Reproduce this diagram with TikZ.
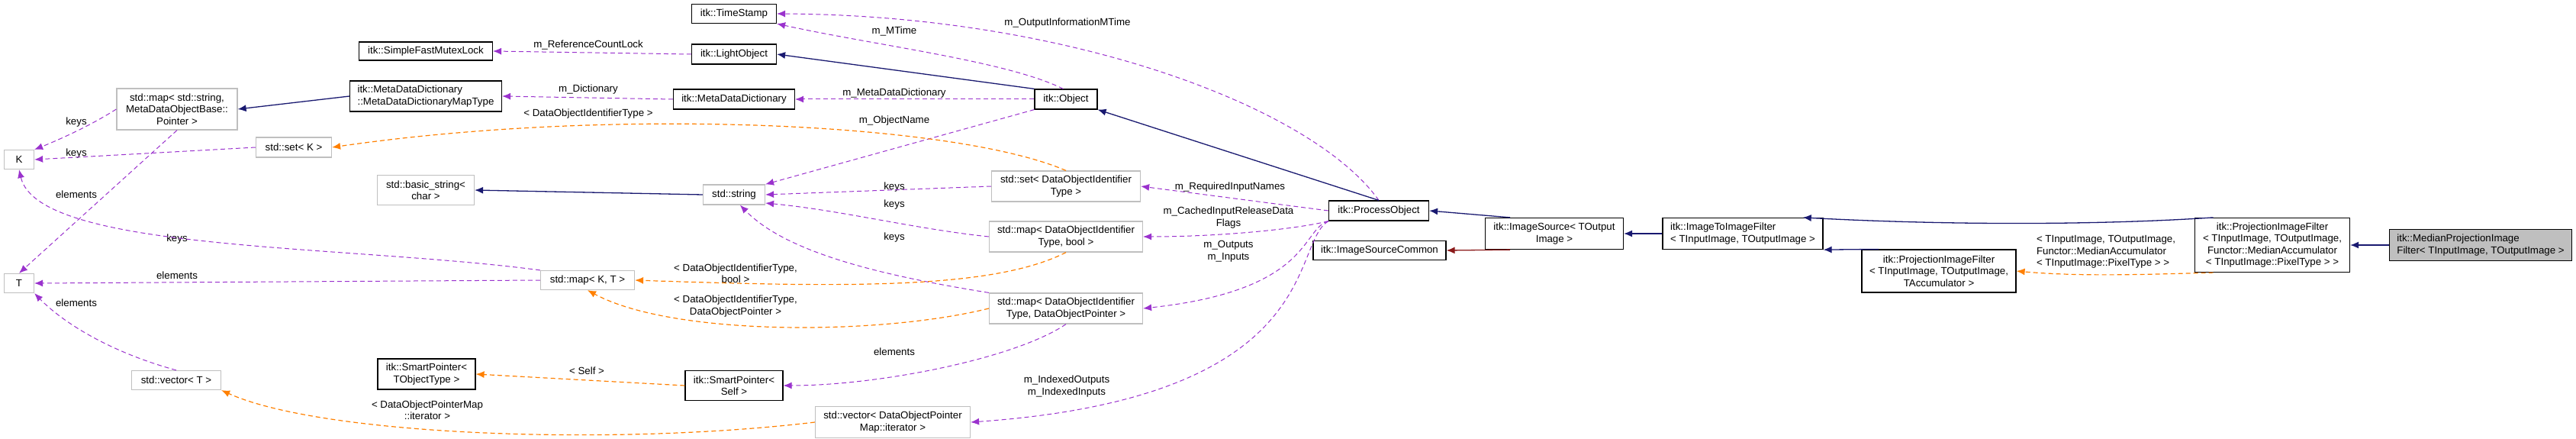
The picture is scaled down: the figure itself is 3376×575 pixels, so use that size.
\documentclass[tikz,border=0pt]{standalone}
\usepackage{fontspec}
\setmainfont{Liberation Sans}
\usetikzlibrary{arrows.meta}
\definecolor{navy}{HTML}{191970}
\definecolor{orchid}{HTML}{9A32CD}
\definecolor{brick}{HTML}{8B1A1A}
\definecolor{grayline}{HTML}{BFBFBF}
\begin{document}
\begin{tikzpicture}[x=1pt, y=-1pt, font=\fontsize{13.3}{15.5}\selectfont]
% Define styles
\tikzstyle{cls} = [rectangle, draw=black, line width=1.2pt, fill=white, inner sep=2pt, align=center]
\tikzstyle{ext} = [rectangle, draw=grayline, line width=1.2pt, fill=white, inner sep=2pt, align=center]
\tikzstyle{lbl} = [inner sep=0pt, align=center]
\tikzstyle{member} = [draw=orchid, dashed, dash pattern=on 6pt off 4pt, line width=1pt, -{Latex[length=11pt,width=9pt]}]
\tikzstyle{tmpl} = [draw=orange, dashed, dash pattern=on 6pt off 4pt, line width=1.2pt, -{Latex[length=11pt,width=9pt]}]
\tikzstyle{inherit} = [draw=navy, line width=1.3pt, -{Latex[length=11pt,width=9pt]}]
\useasboundingbox (0,0) rectangle (3376,575);

% Nodes
\node [cls, minimum width=111, minimum height=25] (timestamp) at (962,18) {itk::TimeStamp};
\node [cls, minimum width=111, minimum height=26] (lightobj) at (962,71) {itk::LightObject};
\node [cls, minimum width=175, minimum height=24] (mutex) at (558,67) {itk::SimpleFastMutexLock};
\node [cls, minimum width=199, minimum height=40, align=left] (maptype) at (558,126) {itk::MetaDataDictionary\\::MetaDataDictionaryMapType};
\node [ext, minimum width=158, minimum height=54] (mapstr) at (232,143) {std::map\textless{} std::string,\\MetaDataObjectBase::\\Pointer \textgreater};
\node [cls, minimum width=159, minimum height=26] (mdd) at (962,130) {itk::MetaDataDictionary};
\node [cls, minimum width=82, minimum height=26] (object) at (1397,130) {itk::Object};
\node [ext, minimum width=39, minimum height=25] (K) at (25,209) {K};
\node [ext, minimum width=39, minimum height=25] (T) at (25,371) {T};
\node [ext, minimum width=99, minimum height=26] (setK) at (385,193) {std::set\textless{} K \textgreater};
\node [ext, minimum width=127, minimum height=39] (basicstr) at (558,249) {std::basic\_string\textless\\char \textgreater};
\node [ext, minimum width=81, minimum height=26] (string) at (962,255) {std::string};
\node [ext, minimum width=195, minimum height=40] (setdoit) at (1397,244) {std::set\textless{} DataObjectIdentifier\\Type \textgreater};
\node [ext, minimum width=201, minimum height=40] (mapbool) at (1397,310) {std::map\textless{} DataObjectIdentifier\\Type, bool \textgreater};
\node [ext, minimum width=201, minimum height=40] (mapdop) at (1397,404) {std::map\textless{} DataObjectIdentifier\\Type, DataObjectPointer \textgreater};
\node [ext, minimum width=123, minimum height=25] (mapKT) at (770,367) {std::map\textless{} K, T \textgreater};
\node [ext, minimum width=117, minimum height=25] (vecT) at (231,498) {std::vector\textless{} T \textgreater};
\node [cls, minimum width=128, minimum height=40] (sptobj) at (559,490) {itk::SmartPointer\textless\\TObjectType \textgreater};
\node [cls, minimum width=128, minimum height=39] (spself) at (962,505) {itk::SmartPointer\textless\\Self \textgreater};
\node [ext, minimum width=203, minimum height=41] (vecdop) at (1170,553) {std::vector\textless{} DataObjectPointer\\Map::iterator \textgreater};
\node [cls, minimum width=131, minimum height=26] (process) at (1807,276) {itk::ProcessObject};
\node [cls, minimum width=174, minimum height=25] (isc) at (1808,328) {itk::ImageSourceCommon};
\node [cls, minimum width=181, minimum height=41] (imgsrc) at (2037,306) {itk::ImageSource\textless{} TOutput\\Image \textgreater};
\node [cls, minimum width=210, minimum height=41, align=left] (i2i) at (2284,306) {itk::ImageToImageFilter\\\textless{} TInputImage, TOutputImage \textgreater};
\node [cls, minimum width=202, minimum height=56] (projacc) at (2541,355) {itk::ProjectionImageFilter\\\textless{} TInputImage, TOutputImage,\\TAccumulator \textgreater};
\node [cls, minimum width=203, minimum height=71] (projmed) at (2978,321) {itk::ProjectionImageFilter\\\textless{} TInputImage, TOutputImage,\\Functor::MedianAccumulator\\\textless{} TInputImage::PixelType \textgreater{} \textgreater};
\node [cls, fill=grayline, minimum width=239, minimum height=41, align=left] (median) at (3251,321) {itk::MedianProjectionImage\\Filter\textless{} TInputImage, TOutputImage \textgreater};

% Labels
\node [lbl] (lrefcount) at (771,59) {m\_ReferenceCountLock};
\node [lbl] (ldict) at (771,117) {m\_Dictionary};
\node [lbl] (ltsetk) at (771,149) {\textless{} DataObjectIdentifierType \textgreater};
\node [lbl] (lkeys1) at (100,160) {keys};
\node [lbl] (lkeys2) at (100,201) {keys};
\node [lbl] (lelem1) at (100,255) {elements};
\node [lbl] (lkeys3) at (232,313) {keys};
\node [lbl] (lelem2) at (232,361) {elements};
\node [lbl] (lelem3) at (100,397) {elements};
\node [lbl] (lself) at (769,486) {\textless{} Self \textgreater};
\node [lbl] (lvecit) at (560,537) {\textless{} DataObjectPointerMap\\::iterator \textgreater};
\node [lbl] (ltbool) at (964,358) {\textless{} DataObjectIdentifierType,\\bool \textgreater};
\node [lbl] (ltdop) at (964,401) {\textless{} DataObjectIdentifierType,\\DataObjectPointer \textgreater};
\node [lbl] (lmtime) at (1172,41) {m\_MTime};
\node [lbl] (loutmtime) at (1399,30) {m\_OutputInformationMTime};
\node [lbl] (lmdd) at (1172,122) {m\_MetaDataDictionary};
\node [lbl] (lname) at (1172,158) {m\_ObjectName};
\node [lbl] (lkeys4) at (1172,245) {keys};
\node [lbl] (lkeys5) at (1172,268) {keys};
\node [lbl] (lkeys6) at (1172,311) {keys};
\node [lbl] (lreq) at (1612,245) {m\_RequiredInputNames};
\node [lbl] (lcached) at (1610,285) {m\_CachedInputReleaseData\\Flags};
\node [lbl] (lio) at (1610,329) {m\_Outputs\\m\_Inputs};
\node [lbl] (lelem4) at (1172,461) {elements};
\node [lbl] (lindexed) at (1398,506) {m\_IndexedOutputs\\m\_IndexedInputs};
\node [lbl, align=left] (ltmed) at (2760,330) {\textless{} TInputImage, TOutputImage,\\Functor::MedianAccumulator\\\textless{} TInputImage::PixelType \textgreater{} \textgreater};

% Connections
\draw [member] (lightobj.west) -- (mutex.east);
\draw [member] (mdd.west) -- (maptype.east);
\draw [member] (object.west) -- (mdd.east);
\draw [member] (object.105) .. controls (1320,80) and (1150,60) .. (timestamp.south east);
\draw [member] (process.north) .. controls (1720,140) and (1400,20) .. (timestamp.east);
\draw [inherit] (object.north west) -- (lightobj.east);
\draw [member] (object.south west) -- (string.north east);
\draw [member] (setdoit.west) -- (string.east);
\draw [member] (mapbool.west) .. controls (1200,300) and (1100,275) .. (string.-15);
\draw [member] (mapdop.north west) .. controls (1150,360) and (1030,330) .. (string.-60);
\draw [inherit] (string.west) -- (basicstr.east);
\draw [inherit] (process.north) -- (object.south east);
\draw [member] (process.west) -- (setdoit.east);
\draw [member] (process.south west) .. controls (1700,300) and (1600,310) .. (mapbool.east);
\draw [member] (process.south west) .. controls (1705,300) and (1720,380) .. (mapdop.east);
\draw [member] (process.south west) .. controls (1690,320) and (1740,520) .. (vecdop.east);
\draw [member] (mapdop.south) .. controls (1330,470) and (1150,505) .. (spself.east);
\draw [tmpl] (spself.west) -- (sptobj.east);
\draw [tmpl] (vecdop.west) .. controls (800,585) and (420,570) .. (vecT.south east);
\draw [tmpl] (mapdop.west) .. controls (1150,440) and (880,440) .. (mapKT.south);
\draw [tmpl] (mapbool.south) .. controls (1300,380) and (1100,376) .. (mapKT.east);
\draw [tmpl] (setdoit.north) .. controls (1250,160) and (800,140) .. (setK.east);
\draw [member] (mapstr.west) .. controls (110,170) and (60,190) .. (K.north east);
\draw [member] (mapstr.south) -- (T.north);
\draw [member] (setK.west) -- (K.east);
\draw [member] (mapKT.north west) .. controls (450,320) and (50,330) .. (K.south);
\draw [member] (mapKT.west) -- (T.east);
\draw [member] (vecT.north) .. controls (140,460) and (80,420) .. (T.south east);
\draw [inherit] (maptype.west) -- (mapstr.east);
\draw [inherit] (imgsrc.160) -- (process.east);
\draw [draw=brick, line width=1.3pt, -{Latex[length=11pt,width=9pt]}] (imgsrc.200) -- (isc.east);
\draw [inherit] (imgsrc.east -| i2i.west) -- (imgsrc.east);
\draw [inherit] (projmed.155) .. controls (2750,295) and (2550,295) .. (i2i.15);
\draw [inherit] (projacc.160) -- (i2i.south east);
\draw [inherit] (median.west) -- (projmed.east);
\draw [tmpl] (projmed.205) .. controls (2800,360) and (2720,362) .. (projacc.east);

\end{tikzpicture}
\end{document}
